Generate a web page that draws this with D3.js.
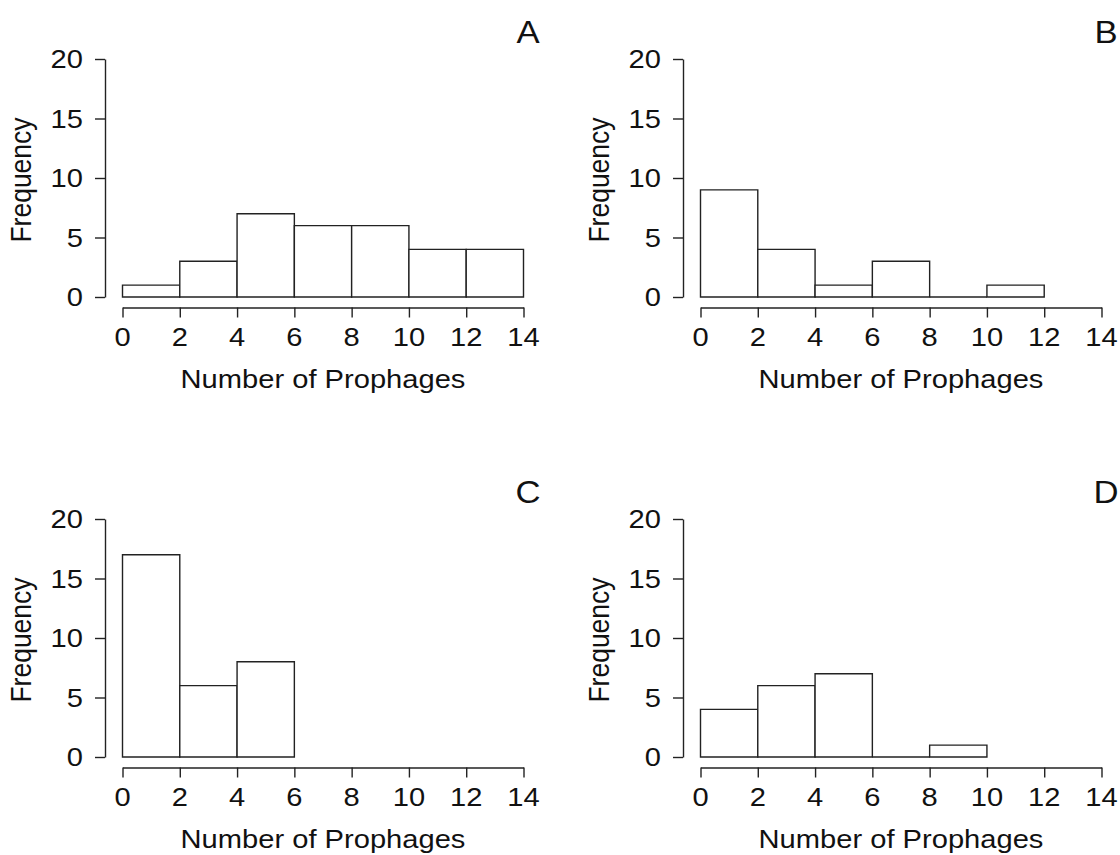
<!DOCTYPE html>
<html>
<head>
<meta charset="utf-8">
<script src="https://cdn.jsdelivr.net/npm/d3@7"></script>
<style>
  html, body { margin: 0; padding: 0; background: #fff; }
  svg text { font-family: "Liberation Sans", Arial, Helvetica, sans-serif; fill: #111; }
</style>
</head>
<body>
<svg id="chart" width="1120" height="855"></svg>
<script>
// ---- data ----
const panelLabels = ["A", "B", "C", "D"];
const binStarts = [0, 2, 4, 6, 8, 10, 12];
const countsA = [1, 3, 7, 6, 6, 4, 4];
const countsB = [9, 4, 1, 3, 0, 1];
const countsC = [17, 6, 8];
const countsD = [4, 6, 7, 0, 1];
const xTicks = [0, 2, 4, 6, 8, 10, 12, 14];
const yTicks = [0, 5, 10, 15, 20];
const binWidth = 2;
const xTitle = "Number of Prophages";
const yTitle = "Frequency";

// ---- layout ----
const svg = d3.select("#chart");
const SX = 1.12;          // horizontal text stretch of the reference
const FS = 26;            // font size
const ink = "#222";
const panelOffsets = [[0, 0], [578, 0], [0, 460], [578, 460]];
const allCounts = [countsA, countsB, countsC, countsD];

function stretchText(sel, x, y, extra) {
  return sel.attr("transform", `translate(${x},${y}) scale(${SX},1)` + (extra || ""));
}

allCounts.forEach((counts, i) => {
  const [ox, oy] = panelOffsets[i];
  const g = svg.append("g").attr("transform", `translate(${ox},${oy})`);
  const x = d3.scaleLinear().domain([0, 14]).range([122.5, 523.5]);
  const y = d3.scaleLinear().domain([0, 20]).range([297, 59]);
  const axisX = 105, axisY = 307.5;

  // bars (drawn as closed paths so zero-count bins still show as a line)
  const bins = counts.map((c, k) => ({ x0: binStarts[k], x1: binStarts[k] + binWidth, c }));
  g.selectAll("path.bar").data(bins).join("path")
    .attr("class", "bar")
    .attr("d", d => {
      const p = d3.path();
      p.moveTo(x(d.x0), y(0));
      p.lineTo(x(d.x0), y(d.c));
      p.lineTo(x(d.x1), y(d.c));
      p.lineTo(x(d.x1), y(0));
      p.closePath();
      return p.toString();
    })
    .attr("fill", "#fff")
    .attr("stroke", ink)
    .attr("stroke-width", 1.4);

  // y axis
  const ya = g.append("g").attr("transform", `translate(${axisX},0)`)
    .call(d3.axisLeft(y).tickValues(yTicks).tickSize(10).tickSizeOuter(0).tickFormat(""));
  ya.select(".domain").attr("stroke", ink).attr("stroke-width", 1.4);
  ya.selectAll(".tick line").attr("stroke", ink).attr("stroke-width", 1.4);
  yTicks.forEach(t => {
    stretchText(g.append("text"), 83, y(t) + FS * 0.36)
      .attr("text-anchor", "end").attr("font-size", FS).text(t);
  });

  // x axis
  const xa = g.append("g").attr("transform", `translate(0,${axisY})`)
    .call(d3.axisBottom(x).tickValues(xTicks).tickSize(10).tickSizeOuter(0).tickFormat(""));
  xa.select(".domain").attr("stroke", ink).attr("stroke-width", 1.4);
  xa.selectAll(".tick line").attr("stroke", ink).attr("stroke-width", 1.4);
  xTicks.forEach(t => {
    stretchText(g.append("text"), x(t), 345.5)
      .attr("text-anchor", "middle").attr("font-size", FS).text(t);
  });

  // titles
  stretchText(g.append("text"), (x(0) + x(14)) / 2, 388)
    .attr("text-anchor", "middle").attr("font-size", FS).text(xTitle);
  g.append("text")
    .attr("transform", `translate(31,${(y(0) + y(20)) / 2 + 2}) scale(${SX},1) rotate(-90)`)
    .attr("text-anchor", "middle").attr("font-size", FS + 0.5).text(yTitle);

  // panel label
  stretchText(g.append("text"), 528, 43)
    .attr("text-anchor", "middle").attr("font-size", 31).text(panelLabels[i]);
});
</script>
</body>
</html>
